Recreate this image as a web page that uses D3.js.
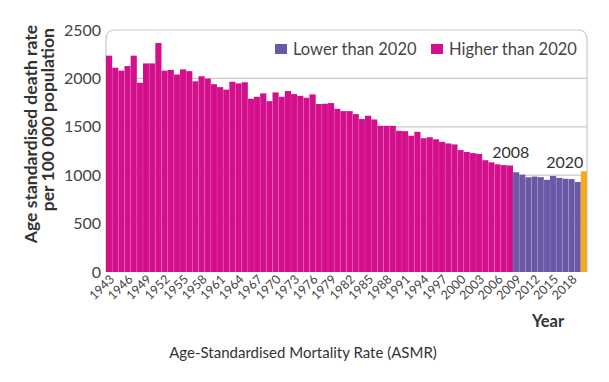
<!DOCTYPE html>
<html>
<head>
<meta charset="utf-8">
<script src="https://cdn.jsdelivr.net/npm/d3@7"></script>
<style>
  html, body { margin: 0; padding: 0; background: #fff; }
  svg { display: block; font-family: Lato, "Open Sans", sans-serif; }
</style>
</head>
<body>
<svg id="chart" width="609" height="382"></svg>
<script>
const years = d3.range(1943, 2021);
const asmr = [
  2235, 2110, 2080, 2127, 2235, 1955, 2155, 2155, 2365, 2080,
  2088, 2040, 2093, 2075, 1970, 2022, 1998, 1940, 1910, 1884,
  1965, 1948, 1960, 1790, 1810, 1845, 1765, 1855, 1810, 1869,
  1838, 1820, 1800, 1835, 1735, 1738, 1745, 1686, 1662, 1662,
  1631, 1580, 1614, 1576, 1510, 1510, 1510, 1459, 1455, 1407,
  1448, 1382, 1392, 1371, 1345, 1328, 1318, 1259, 1240, 1228,
  1220, 1155, 1133, 1112, 1104, 1100, 1030, 1005, 978, 986,
  980, 952, 992, 972, 963, 960, 930, 1040
];
const yTicks = [0, 500, 1000, 1500, 2000, 2500];
const xTickYears = d3.range(1943, 2020, 3);
const legendItems = ["Lower than 2020", "Higher than 2020"];
const annotations = [{ year: 2008, label: "2008" }, { year: 2020, label: "2020" }];
const refYear = 2020;

const colors = { lower: "#6a58a7", higher: "#d30f8b", ref: "#f6a81e" };
const data = years.map((yr, i) => ({ year: yr, value: asmr[i] }));
const refValue = data.find(d => d.year === refYear).value;

const svg = d3.select("#chart");
const mLeft = 106, mRight = 587, mTop = 30, mBottom = 272;

const x = d3.scaleBand().domain(years).range([mLeft, mRight]).padding(0);
const y = d3.scaleLinear().domain([0, 2500]).range([mBottom, mTop]);

// panel border (rounded top) + gridlines
const rr = 9;
svg.append("path")
  .attr("d", `M${mLeft},${mBottom} V${mTop + rr} Q${mLeft},${mTop} ${mLeft + rr},${mTop} H${mRight - rr} Q${mRight},${mTop} ${mRight},${mTop + rr} V${mBottom}`)
  .attr("fill", "none").attr("stroke", "#c9c9c9").attr("stroke-width", 1.2);
svg.append("g").selectAll("line")
  .data(yTicks.filter(t => t > 0 && t < 2500))
  .join("line")
  .attr("x1", mLeft).attr("x2", mRight)
  .attr("y1", d => y(d)).attr("y2", d => y(d))
  .attr("stroke", "#c9c9c9").attr("stroke-width", 1.2);

// bars
function colorOf(d) {
  if (d.year === refYear) return colors.ref;
  return d.value < refValue ? colors.lower : colors.higher;
}
svg.append("g").selectAll("rect")
  .data(data)
  .join("rect")
  .attr("x", d => x(d.year))
  .attr("width", x.bandwidth())
  .attr("y", d => y(d.value))
  .attr("height", d => y(0) - y(d.value))
  .attr("fill", colorOf);
// thin separators
svg.append("g").selectAll("line")
  .data(data.slice(1))
  .join("line")
  .attr("x1", d => x(d.year)).attr("x2", d => x(d.year))
  .attr("y1", d => Math.max(y(d.value), y(data[years.indexOf(d.year) - 1].value)))
  .attr("y2", y(0))
  .attr("stroke", "rgba(255,255,255,0.22)").attr("stroke-width", 0.6);

// y axis
const yAxis = d3.axisLeft(y).tickValues(yTicks).tickFormat(d3.format("d")).tickSize(0).tickPadding(5);
const gy = svg.append("g").attr("transform", `translate(${mLeft},0)`).call(yAxis);
gy.select(".domain").remove();
gy.selectAll("text").attr("font-size", 16).attr("fill", "#444").attr("font-family", "Lato, sans-serif");

// x axis
const xAxis = d3.axisBottom(x).tickValues(xTickYears).tickSize(0).tickPadding(0);
const gx = svg.append("g").attr("transform", `translate(0,${mBottom})`).call(xAxis);
gx.select(".domain").remove();
gx.selectAll("text")
  .attr("font-size", 12.5).attr("fill", "#444").attr("font-family", "Lato, sans-serif")
  .attr("text-anchor", "end")
  .attr("dy", null)
  .attr("y", null)
  .attr("transform", "translate(6,8) rotate(-45)");

// axis titles
const yt = svg.append("text")
  .attr("transform", "translate(37,25) rotate(-90)")
  .attr("text-anchor", "end")
  .attr("font-size", 17.5).attr("font-weight", "bold").attr("fill", "#333");
yt.append("tspan").attr("x", 0).attr("dy", 0).text("Age standardised death rate");
yt.append("tspan").attr("x", -3).attr("dy", 17).text("per 100 000 population");

svg.append("text").attr("x", 548).attr("y", 327)
  .attr("text-anchor", "middle").attr("font-size", 16.5).attr("font-weight", "bold").attr("fill", "#333")
  .text("Year");

// annotations
svg.append("g").selectAll("text")
  .data(annotations)
  .join("text")
  .attr("x", d => d.year === refYear ? x(d.year) - 16 : x(d.year) + 4)
  .attr("y", d => y(data.find(e => e.year === d.year).value) - (d.year === refYear ? 3 : 8))
  .attr("text-anchor", "middle")
  .attr("font-size", 16).attr("fill", "#333")
  .text(d => d.label);

// legend
const legendColors = [colors.lower, colors.higher];
const legendX = [275, 431];
const lg = svg.append("g").selectAll("g")
  .data(legendItems)
  .join("g")
  .attr("transform", (d, i) => `translate(${legendX[i]},44)`);
lg.append("rect").attr("width", 12).attr("height", 10).attr("y", 0).attr("fill", (d, i) => legendColors[i]);
lg.append("text").attr("x", 18).attr("y", 11).attr("font-size", 16.5).attr("fill", "#444").text(d => d);

// caption
svg.append("text").attr("x", 303).attr("y", 358)
  .attr("text-anchor", "middle").attr("font-size", 15).attr("fill", "#333")
  .text("Age-Standardised Mortality Rate (ASMR)");
</script>
</body>
</html>
